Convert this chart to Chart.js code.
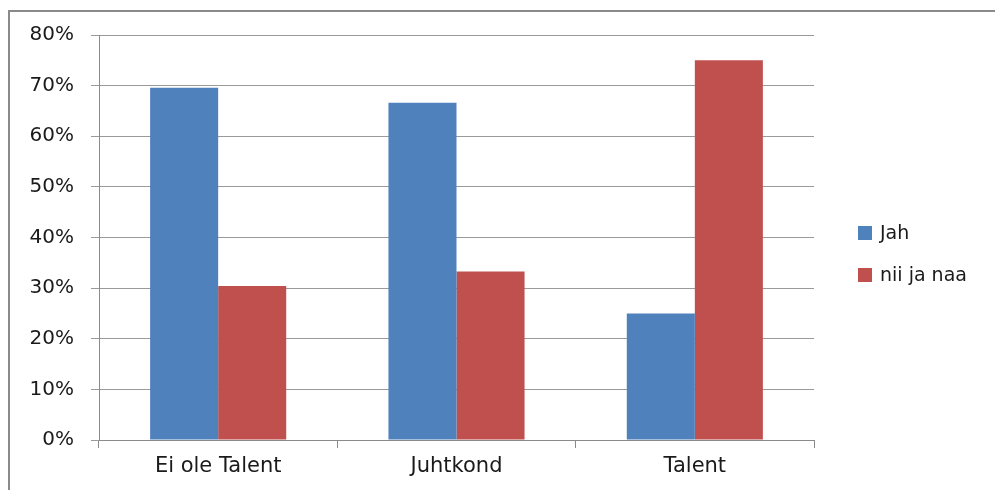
<!DOCTYPE html>
<html>
<head>
<meta charset="utf-8">
<script src="https://cdn.jsdelivr.net/npm/chart.js@4/dist/chart.umd.min.js"></script>
<style>
html,body{margin:0;padding:0;background:#fff;}
#wrap{width:995px;height:490px;position:relative;}
</style>
</head>
<body>
<div id="wrap"><canvas id="c" width="995" height="490"></canvas></div>
<script>
const categories=['Ei ole Talent','Juhtkond','Talent'];
const seriesNames=['Jah','nii ja naa'];
const jah=[0.696,0.666,0.25];
const niiJaNaa=[0.304,0.333,0.75];
const colors=['#4F81BD','#C0504D'];
const FONT='"DejaVu Sans", sans-serif';
const TXT='#1a1a1a';

// ümbrise raam + legend
const framePlugin={
  id:'frame',
  afterDraw(chart){
    const c=chart.ctx;
    c.save();
    c.strokeStyle='#8a8a8a'; c.lineWidth=2;
    c.beginPath(); c.moveTo(9,490); c.lineTo(9,11); c.lineTo(995,11); c.stroke();
    c.font='19px '+FONT; c.textBaseline='middle'; c.fillStyle=TXT;
    const ys=[233,275];
    seriesNames.forEach((n,i)=>{
      c.fillStyle=colors[i];
      c.fillRect(858,ys[i]-7,14,14);
      c.fillStyle=TXT;
      c.fillText(n,880,ys[i]+1);
    });
    c.restore();
  }
};

new Chart(document.getElementById('c').getContext('2d'),{
  type:'bar',
  data:{
    labels:categories,
    datasets:[
      {label:seriesNames[0],data:jah,backgroundColor:colors[0]},
      {label:seriesNames[1],data:niiJaNaa,backgroundColor:colors[1]}
    ]
  },
  options:{
    responsive:false,animation:false,
    layout:{padding:{top:35,right:181,left:0,bottom:0}},
    datasets:{bar:{categoryPercentage:0.571,barPercentage:1}},
    plugins:{legend:{display:false},tooltip:{enabled:false}},
    scales:{
      x:{
        grid:{offset:true,drawOnChartArea:false,drawTicks:true,tickLength:8,color:'#8a8a8a'},
        border:{color:'#8a8a8a'},
        ticks:{font:{family:FONT,size:21},color:TXT,padding:6},
        afterFit(s){s.height=50;}
      },
      y:{
        min:0,max:0.8,
        grid:{color:'#9a9a9a',tickLength:8},
        border:{color:'#8a8a8a'},
        ticks:{stepSize:0.1,font:{family:FONT,size:20},color:TXT,padding:17,
          callback:v=>Math.round(v*100)+'%'},
        afterFit(s){s.width=99;}
      }
    }
  },
  plugins:[framePlugin]
});
</script>
</body>
</html>
